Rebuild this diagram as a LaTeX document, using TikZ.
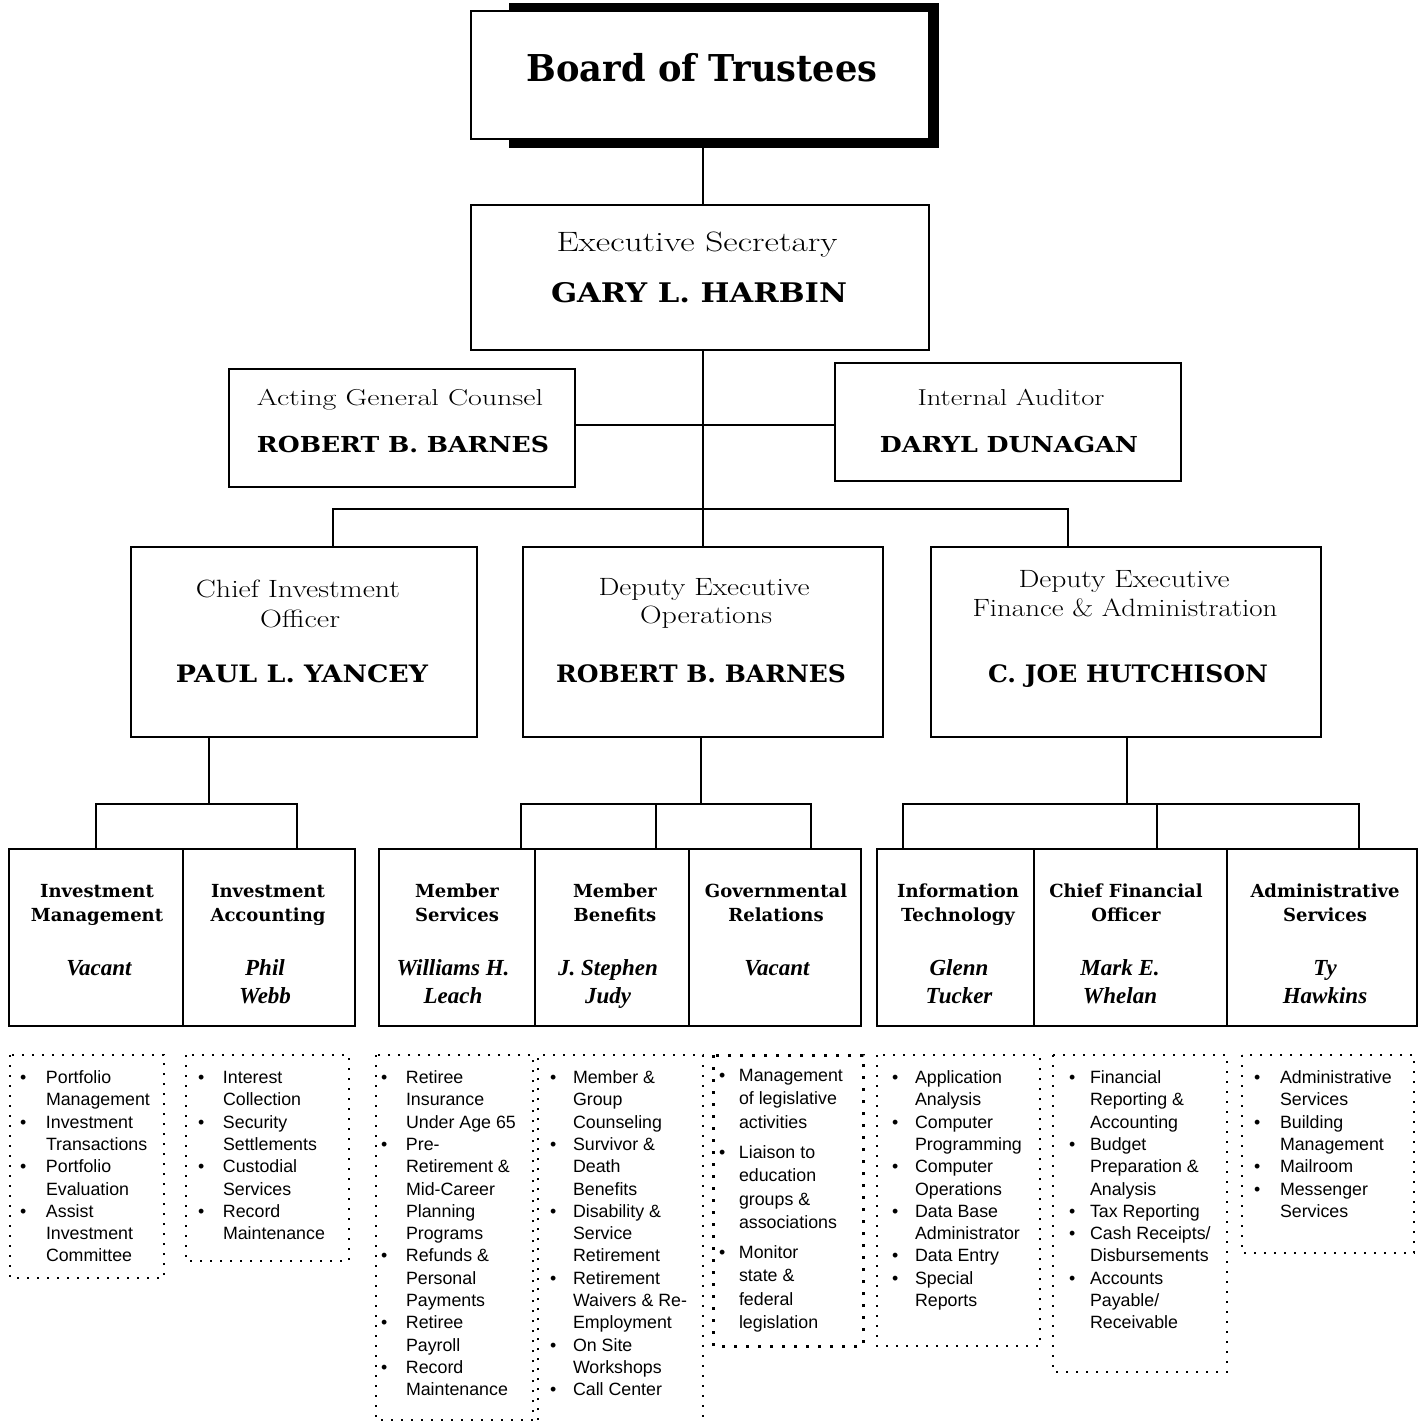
\documentclass[tikz,border=0pt]{standalone}
\usepackage{fontspec}
\usepackage{graphicx}
\newfontfamily\dvs{DejaVu Serif}
\newfontfamily\tms{Liberation Serif}
\newfontfamily\ars{Liberation Sans}
\newcommand\fitw[2]{\resizebox{#1}{\height}{#2}}
\newcommand\lightt[3]{{\fontsize{#1}{#1}\selectfont\fitw{#2}{#3}}}
\newcommand\boldt[3]{{\dvs\bfseries\fontsize{#1}{#1}\selectfont\fitw{#2}{#3}}}
\newcommand\hd[1]{{\dvs\bfseries\fontsize{18}{24}\selectfont\begin{tabular}[t]{@{}c@{}}#1\end{tabular}}}
\newcommand\nm[1]{{\tms\bfseries\itshape\fontsize{23}{28}\selectfont\begin{tabular}[t]{@{}c@{}}#1\end{tabular}}}
\newcommand\lst[2]{{\ars\fontsize{17.8}{22.3}\selectfont\begin{tabular}[t]{@{}p{#1}@{}l@{}}#2\end{tabular}}}
\newcommand\bu{\textbullet}
\begin{document}
\begin{tikzpicture}[x=1pt,y=-1pt,
  box/.style={draw, line width=1.8pt, fill=white, inner sep=0pt, outer sep=0pt},
  conn/.style={line width=1.8pt},
  dotbox/.style={line width=2pt, dash pattern=on 2pt off 8pt},
  heavydot/.style={line width=3pt, dash pattern=on 3pt off 9pt},
  txt/.style={inner sep=0pt, outer sep=0pt, anchor=base},
  lt/.style={inner sep=0pt, outer sep=0pt, anchor=base west}]
\useasboundingbox (0,0) rectangle (1421,1426);
% spine
\coordinate (spine) at (703,0);
% board
\fill (509,3) rectangle (939,148);
\node[box, minimum width=458pt, minimum height=128pt] (board) at (700,75) {};
\node[txt] (tboard) at (702,82) {\boldt{37}{351pt}{Board of Trustees}};
% executive
\node[box, minimum width=458pt, minimum height=145pt] (exec) at (700,277.5) {};
\node[txt] (texec1) at (697,251) {\lightt{28}{281pt}{Executive Secretary}};
\node[txt] (texec2) at (699,302) {\boldt{27}{296pt}{GARY L. HARBIN}};
% staff
\node[box, minimum width=346pt, minimum height=118pt] (agc) at (402,428) {};
\node[txt] (tagc1) at (400,405) {\lightt{23}{286pt}{Acting General Counsel}};
\node[txt] (tagc2) at (403,452) {\boldt{22}{292pt}{ROBERT B. BARNES}};
\node[box, minimum width=346pt, minimum height=118pt] (ia) at (1008,422) {};
\node[txt] (tia1) at (1011,405) {\lightt{23}{187pt}{Internal Auditor}};
\node[txt] (tia2) at (1009,452) {\boldt{22}{258pt}{DARYL DUNAGAN}};
% level 3
\node[box, minimum width=346pt, minimum height=190pt] (cio) at (304,642) {};
\node[txt] (tcio1) at (298,597) {\lightt{25}{204pt}{Chief Investment}};
\node[txt] (tcio2) at (300,627) {\lightt{25}{80pt}{Officer}};
\node[txt] (tcio3) at (302,682) {\boldt{24}{252pt}{PAUL L. YANCEY}};
\node[box, minimum width=360pt, minimum height=190pt] (ops) at (703,642) {};
\node[txt] (tops1) at (704,595) {\lightt{25}{211pt}{Deputy Executive}};
\node[txt] (tops2) at (706,623) {\lightt{25}{132pt}{Operations}};
\node[txt] (tops3) at (701,682) {\boldt{24}{290pt}{ROBERT B. BARNES}};
\node[box, minimum width=390pt, minimum height=190pt] (fin) at (1126,642) {};
\node[txt] (tfin1) at (1124,587) {\lightt{25}{211pt}{Deputy Executive}};
\node[txt] (tfin2) at (1125,616) {\lightt{25}{305pt}{Finance \& Administration}};
\node[txt] (tfin3) at (1128,682) {\boldt{24}{280pt}{C. JOE HUTCHISON}};
% level 4 cells
\node[box, minimum width=174pt, minimum height=177pt] (c1) at (96,937.5) {};
\node[box, minimum width=172pt, minimum height=177pt] (c2) at (269,937.5) {};
\node[box, minimum width=156pt, minimum height=177pt] (c3) at (457,937.5) {};
\node[box, minimum width=154pt, minimum height=177pt] (c4) at (612,937.5) {};
\node[box, minimum width=172pt, minimum height=177pt] (c5) at (775,937.5) {};
\node[box, minimum width=157pt, minimum height=177pt] (c6) at (955.5,937.5) {};
\node[box, minimum width=193pt, minimum height=177pt] (c7) at (1130.5,937.5) {};
\node[box, minimum width=190pt, minimum height=177pt] (c8) at (1322,937.5) {};
\node[txt] (h1) at (97,897) {\hd{Investment\\Management}};
\node[txt] (h2) at (268,897) {\hd{Investment\\Accounting}};
\node[txt] (h3) at (457,897) {\hd{Member\\Services}};
\node[txt] (h4) at (615,897) {\hd{Member\\Benefits}};
\node[txt] (h5) at (776,897) {\hd{Governmental\\Relations}};
\node[txt] (h6) at (958,897) {\hd{Information\\Technology}};
\node[txt] (h7) at (1126,897) {\hd{Chief Financial\\Officer}};
\node[txt] (h8) at (1325,897) {\hd{Administrative\\Services}};
\node[txt] (n1) at (99,975) {\nm{Vacant}};
\node[txt] (n2) at (265,975) {\nm{Phil\\Webb}};
\node[txt] (n3) at (453,975) {\nm{Williams H.\\Leach}};
\node[txt] (n4) at (608,975) {\nm{J. Stephen\\Judy}};
\node[txt] (n5) at (777,975) {\nm{Vacant}};
\node[txt] (n6) at (959,975) {\nm{Glenn\\Tucker}};
\node[txt] (n7) at (1120,975) {\nm{Mark E.\\Whelan}};
\node[txt] (n8) at (1325,975) {\nm{Ty\\Hawkins}};
% connectors
\draw[conn] (board.south -| spine) -- (exec.north -| spine);
\draw[conn] (exec.south -| spine) -- (ops.north -| spine);
\coordinate (mid) at (703,425);
\draw[conn] (agc.east |- mid) -- (ia.west |- mid);
\coordinate (busL) at (333,509);
\coordinate (busR) at (1068,509);
\draw[conn] (cio.north -| busL) -- (busL) -- (busR) -- (fin.north -| busR);
% group 1
\coordinate (j1) at (209,804);
\coordinate (d1a) at (96,804);
\coordinate (d1b) at (297,804);
\draw[conn] (cio.south -| j1) -- (j1);
\draw[conn] (c1.north -| d1a) -- (d1a) -- (d1b) -- (c2.north -| d1b);
% group 2
\coordinate (j2) at (701,804);
\coordinate (d2a) at (521,804);
\coordinate (d2b) at (656,804);
\coordinate (d2c) at (811,804);
\draw[conn] (ops.south -| j2) -- (j2);
\draw[conn] (c3.north -| d2a) -- (d2a) -- (d2c) -- (c5.north -| d2c);
\draw[conn] (d2b) -- (c4.north -| d2b);
% group 3
\coordinate (j3) at (1127,804);
\coordinate (d3a) at (903,804);
\coordinate (d3b) at (1157,804);
\coordinate (d3c) at (1359,804);
\draw[conn] (fin.south -| j3) -- (j3);
\draw[conn] (c6.north -| d3a) -- (d3a) -- (d3c) -- (c8.north -| d3c);
\draw[conn] (d3b) -- (c7.north -| d3b);
% dotted list frames
\draw[dotbox] (10,1055) rectangle (164,1278);
\draw[dotbox] (186,1055) rectangle (349,1261);
\draw[dotbox] (376,1055) rectangle (533,1420);
\draw[dotbox] (538,1420) -- (538,1055) -- (703,1055) -- (703,1420);
\draw[heavydot] (713,1055) rectangle (863,1346);
\draw[dotbox] (877,1055) rectangle (1040,1346);
\draw[dotbox] (1053,1055) rectangle (1227,1372);
\draw[dotbox] (1242,1055) rectangle (1414,1253);
% lists
\node[lt] (l1) at (20,1083.5) {\lst{26pt}{\bu & Portfolio\\ & Management\\ \bu & Investment\\ & Transactions\\ \bu & Portfolio\\ & Evaluation\\ \bu & Assist\\ & Investment\\ & Committee}};
\node[lt] (l2) at (198,1083.5) {\lst{25pt}{\bu & Interest\\ & Collection\\ \bu & Security\\ & Settlements\\ \bu & Custodial\\ & Services\\ \bu & Record\\ & Maintenance}};
\node[lt] (l3) at (381,1083.5) {\lst{25pt}{\bu & Retiree\\ & Insurance\\ & Under Age 65\\ \bu & Pre-\\ & Retirement \&\\ & Mid-Career\\ & Planning\\ & Programs\\ \bu & Refunds \&\\ & Personal\\ & Payments\\ \bu & Retiree\\ & Payroll\\ \bu & Record\\ & Maintenance}};
\node[lt] (l4) at (550,1083.5) {\lst{23pt}{\bu & Member \&\\ & Group\\ & Counseling\\ \bu & Survivor \&\\ & Death\\ & Benefits\\ \bu & Disability \&\\ & Service\\ & Retirement\\ \bu & Retirement\\ & Waivers \& Re-\\ & Employment\\ \bu & On Site\\ & Workshops\\ \bu & Call Center}};
\node[lt] (l5) at (719,1081.5) {{\ars\fontsize{17.8}{23.3}\selectfont\begin{tabular}[t]{@{}p{20pt}@{}l@{}}\bu & Management\\ & of legislative\\ & activities\\[7pt] \bu & Liaison to\\ & education\\ & groups \&\\ & associations\\[7pt] \bu & Monitor\\ & state \&\\ & federal\\ & legislation\end{tabular}}};
\node[lt] (l6) at (892,1083.5) {\lst{23pt}{\bu & Application\\ & Analysis\\ \bu & Computer\\ & Programming\\ \bu & Computer\\ & Operations\\ \bu & Data Base\\ & Administrator\\ \bu & Data Entry\\ \bu & Special\\ & Reports}};
\node[lt] (l7) at (1069,1083.5) {\lst{21pt}{\bu & Financial\\ & Reporting \&\\ & Accounting\\ \bu & Budget\\ & Preparation \&\\ & Analysis\\ \bu & Tax Reporting\\ \bu & Cash Receipts/\\ & Disbursements\\ \bu & Accounts\\ & Payable/\\ & Receivable}};
\node[lt] (l8) at (1254,1083.5) {\lst{26pt}{\bu & Administrative\\ & Services\\ \bu & Building\\ & Management\\ \bu & Mailroom\\ \bu & Messenger\\ & Services}};
\end{tikzpicture}
\end{document}
